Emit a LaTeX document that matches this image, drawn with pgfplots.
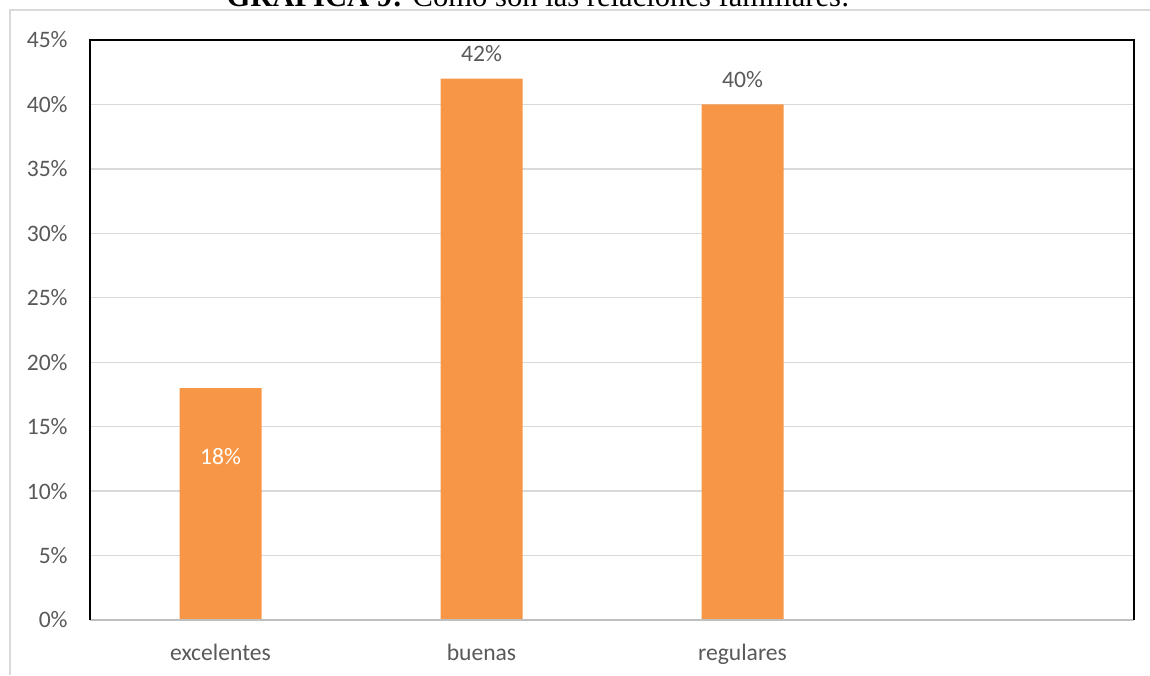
\documentclass[border=0pt]{standalone}
\usepackage{pgfplots}
\pgfplotsset{compat=1.18}
\usepackage{fontspec}
\setmainfont{Carlito}
\newfontfamily\titlefont{Liberation Serif}
\definecolor{barorange}{HTML}{F79646}
\definecolor{txtgray}{HTML}{595959}
\definecolor{gridgray}{HTML}{D9D9D9}
\definecolor{axgray}{HTML}{BFBFBF}
\begin{document}
\begin{tikzpicture}[x=1pt,y=1pt]
\path[use as bounding box] (0,0) rectangle (575,337.5);
\begin{scope}
\clip (0,0) rectangle (575,337.5);
\draw[gridgray, line width=1pt] (5,0) -- (5,332.5) -- (575,332.5);
\node[font=\titlefont\fontsize{15.3}{17}\selectfont, anchor=base, inner sep=0pt] at (269,334) {\textbf{GRAFICA 9:} Como son las relaciones familiares:};
\end{scope}
\begin{axis}[
  at={(45pt,27.5pt)}, anchor=south west,
  width=522pt, height=290pt, scale only axis,
  ymin=0, ymax=0.45, xmin=-0.5, xmax=3.5,
  ytick={0,0.05,0.1,0.15,0.2,0.25,0.3,0.35,0.4,0.45},
  yticklabels={0\%,5\%,10\%,15\%,20\%,25\%,30\%,35\%,40\%,45\%},
  xtick={0,1,2},
  xticklabels={excelentes,buenas,regulares},
  major tick length=0pt,
  axis line style={draw=none},
  ymajorgrids,
  major grid style={gridgray, line width=0.7pt},
  ticklabel style={font=\fontsize{11.8}{13}\selectfont, text=txtgray},
  yticklabel style={anchor=east, inner sep=0pt, xshift=-11pt},
  xticklabel style={anchor=base, inner sep=0pt, yshift=-20pt},
  clip=false,
]
\addplot[ybar, bar width=41pt, fill=barorange, draw=none] coordinates {(0,0.18) (1,0.42) (2,0.40)};
\draw[axgray, line width=1.2pt] (rel axis cs:0,0) -- (rel axis cs:1,0);
\draw[black, line width=1pt] (rel axis cs:0,0) -- (rel axis cs:0,1) -- (rel axis cs:1,1) -- (rel axis cs:1,0);
\node[anchor=base, inner sep=0pt, yshift=8.5pt, text=txtgray, font=\fontsize{11.8}{13}\selectfont] at (axis cs:1,0.42) {42\%};
\node[anchor=base, inner sep=0pt, yshift=8.5pt, text=txtgray, font=\fontsize{11.8}{13}\selectfont] at (axis cs:2,0.40) {40\%};
\node[anchor=base, inner sep=0pt, text=white, font=\fontsize{11.8}{13}\selectfont] at (axis cs:0,0.121) {18\%};
\end{axis}
\end{tikzpicture}
\end{document}
